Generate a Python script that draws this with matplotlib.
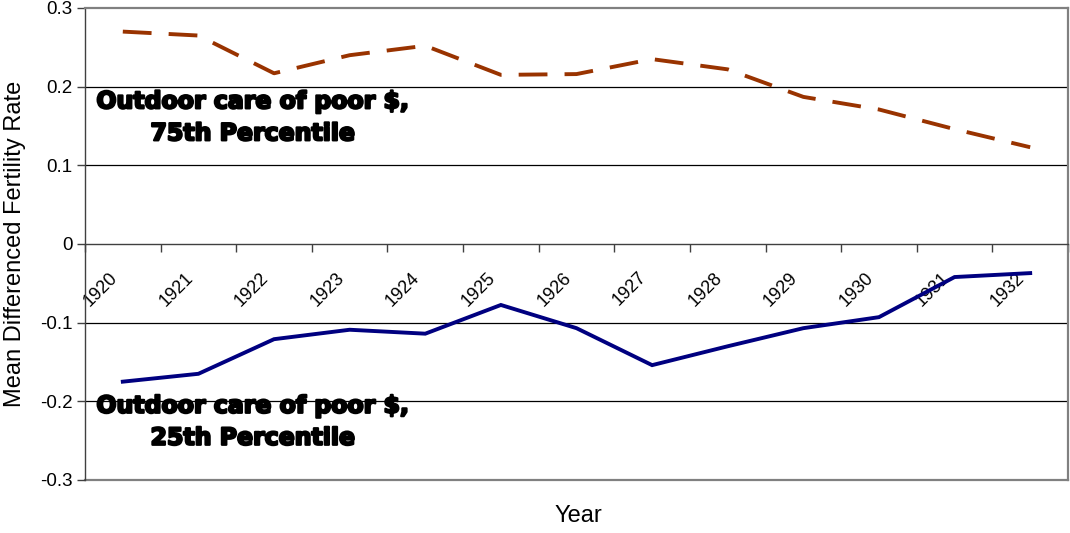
import matplotlib
matplotlib.use("Agg")
import matplotlib.pyplot as plt
import matplotlib.transforms as mtransforms
import matplotlib.patheffects as pe
import numpy as np

plt.rcParams['font.family'] = ['Liberation Sans', 'DejaVu Sans']

years = ['1920', '1921', '1922', '1923', '1924', '1925', '1926',
         '1927', '1928', '1929', '1930', '1931', '1932']
pct75 = [0.270, 0.265, 0.217, 0.240, 0.252, 0.215, 0.216,
         0.235, 0.222, 0.187, 0.171, 0.146, 0.123]
pct25 = [-0.175, -0.165, -0.121, -0.109, -0.114, -0.0775, -0.107,
         -0.154, -0.130, -0.107, -0.093, -0.042, -0.037]
y_ticks = [-0.3, -0.2, -0.1, 0, 0.1, 0.2, 0.3]
y_labels = ['-0.3', '-0.2', '-0.1', '0', '0.1', '0.2', '0.3']

fig = plt.figure(figsize=(10.70, 5.33), dpi=100)
ax = fig.add_axes([85 / 1070, 1 - 480 / 533, 983 / 1070, 472 / 533])

n = len(years)
x = np.arange(n) + 0.5

ax.set_xlim(0, n)
ax.set_ylim(-0.3, 0.3)

# horizontal gridlines
for v in [-0.2, -0.1, 0.1, 0.2]:
    ax.axhline(v, color='black', lw=0.9, zorder=1)
ax.axhline(-0.3, color='#808080', lw=1.6, zorder=1, clip_on=False)

ax.plot(x, pct75, color='#993300', lw=2.8, dashes=(7.4, 4.4), zorder=3,
        solid_capstyle='butt', dash_capstyle='butt')
ax.plot(x, pct25, color='#000080', lw=2.8, zorder=3, solid_joinstyle='miter')

# frame
ax.spines['top'].set_color('#808080')
ax.spines['top'].set_linewidth(1.6)
ax.spines['right'].set_color('#808080')
ax.spines['right'].set_linewidth(1.6)
ax.spines['left'].set_color('#404040')
ax.spines['left'].set_linewidth(1.0)
ax.spines['bottom'].set_position(('data', 0))
ax.spines['bottom'].set_color('#404040')
ax.spines['bottom'].set_linewidth(1.0)

ax.set_yticks(y_ticks)
ax.set_yticklabels(y_labels)
ax.tick_params(axis='y', direction='out', length=6, width=1.0,
               color='#404040', labelsize=13.5, pad=3)

ax.set_xticks(np.arange(n + 1))
ax.set_xticklabels([])
ax.tick_params(axis='x', which='major', direction='out', length=6,
               width=1.0, color='#404040')
ax.set_xticks(x, minor=True)
ax.set_xticklabels(years, minor=True, rotation=45, rotation_mode='anchor',
                   ha='right', va='center', fontsize=13)
ax.tick_params(axis='x', which='minor', length=0, pad=0)
offset = mtransforms.ScaledTranslation(-8 / 100, -31 / 100, fig.dpi_scale_trans)
for lbl in ax.xaxis.get_minorticklabels():
    lbl.set_transform(lbl.get_transform() + offset)

ax.set_ylabel('Mean Differenced Fertility Rate', fontsize=17, labelpad=10)
fig.text(578 / 1070, 1 - 516 / 533, 'Year', ha='center', va='center',
         fontsize=17)

label_kw = dict(ha='center', va='center', fontsize=17, fontweight='heavy',
                family=['DejaVu Sans'], linespacing=1.42, zorder=4,
                path_effects=[pe.withStroke(linewidth=1.6, foreground='black')])
ax.text(2.22, 0.161, 'Outdoor care of poor $,\n75th Percentile', **label_kw)
ax.text(2.22, -0.226, 'Outdoor care of poor $,\n25th Percentile', **label_kw)

fig.savefig('out.png', dpi=100)
